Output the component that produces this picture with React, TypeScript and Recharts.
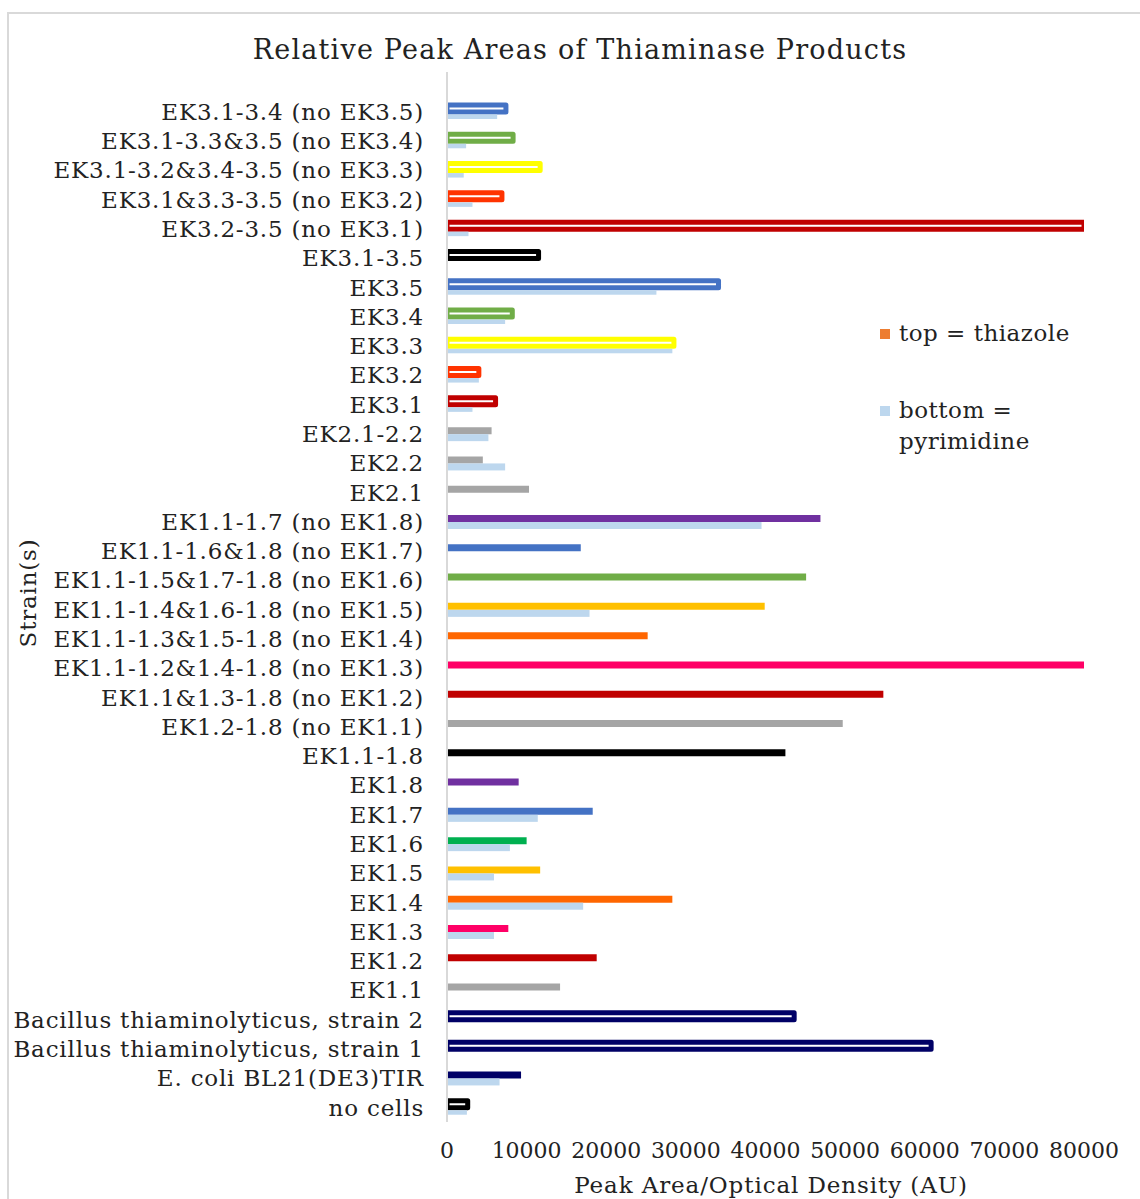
import React from 'react';
import { BarChart, Bar, XAxis, YAxis, Cell, Legend } from 'recharts';

// Strains, top to bottom
const strains: string[] = [
  'EK3.1-3.4 (no EK3.5)',
  'EK3.1-3.3&3.5 (no EK3.4)',
  'EK3.1-3.2&3.4-3.5 (no EK3.3)',
  'EK3.1&3.3-3.5 (no EK3.2)',
  'EK3.2-3.5 (no EK3.1)',
  'EK3.1-3.5',
  'EK3.5',
  'EK3.4',
  'EK3.3',
  'EK3.2',
  'EK3.1',
  'EK2.1-2.2',
  'EK2.2',
  'EK2.1',
  'EK1.1-1.7 (no EK1.8)',
  'EK1.1-1.6&1.8 (no EK1.7)',
  'EK1.1-1.5&1.7-1.8 (no EK1.6)',
  'EK1.1-1.4&1.6-1.8 (no EK1.5)',
  'EK1.1-1.3&1.5-1.8 (no EK1.4)',
  'EK1.1-1.2&1.4-1.8 (no EK1.3)',
  'EK1.1&1.3-1.8 (no EK1.2)',
  'EK1.2-1.8 (no EK1.1)',
  'EK1.1-1.8',
  'EK1.8',
  'EK1.7',
  'EK1.6',
  'EK1.5',
  'EK1.4',
  'EK1.3',
  'EK1.2',
  'EK1.1',
  'Bacillus thiaminolyticus, strain 2',
  'Bacillus thiaminolyticus, strain 1',
  'E. coli BL21(DE3)TIR',
  'no cells',
];

// Peak area / OD for the thiazole product (upper bar of each pair)
const thiazole: number[] = [
  7400, 8300, 11700, 6900, 80000, 11500, 34100, 8200, 28500, 4000, 6100,
  5600, 4500, 10300,
  46900, 16800, 45100, 39900, 25200, 80000, 54800, 49700, 42500,
  9000, 18300, 10000, 11700, 28300, 7700, 18800, 14200,
  43600, 60800, 9300, 2600,
];

// Peak area / OD for the pyrimidine product (lower bar of each pair)
const pyrimidine: number[] = [
  6300, 2400, 2100, 3200, 2700, 0, 26300, 7300, 28300, 4000, 3200,
  5200, 7300, 0,
  39500, 0, 0, 17900, 0, 0, 0, 0, 0,
  0, 11400, 7900, 5900, 17100, 5900, 0, 0,
  0, 0, 6600, 2500,
];

const xTicks: number[] = [0, 10000, 20000, 30000, 40000, 50000, 60000, 70000, 80000];

// Per-strain colour of the thiazole bar
const thiazoleColors: string[] = [
  '#4472C4', '#70AD47', '#FFFF00', '#FF3300', '#C00000', '#000000',
  '#4472C4', '#70AD47', '#FFFF00', '#FF3300', '#C00000',
  '#A5A5A5', '#A5A5A5', '#A5A5A5',
  '#7030A0', '#4472C4', '#70AD47', '#FFC000', '#FF6600', '#FF0066', '#C00000', '#A5A5A5', '#000000',
  '#7030A0', '#4472C4', '#00B050', '#FFC000', '#FF6600', '#FF0066', '#C00000', '#A5A5A5',
  '#000066', '#000066', '#000066', '#000000',
];

// Thiazole bars drawn as hollow outlines rather than solid fills
const hollow: boolean[] = [
  true, true, true, true, true, true, true, true, true, true, true,
  false, false, false,
  false, false, false, false, false, false, false, false, false,
  false, false, false, false, false, false, false, false,
  true, true, false, true,
];

const PYRIMIDINE_COLOR = '#BDD7EE';
const LEGEND_THIAZOLE = '#ED7D31';
const FONT = "'DejaVu Serif', serif";
const TEXT = '#222222';
const OUTLINE = 5;

const rows = strains.map((name, i) => ({
  name,
  thiazole: thiazole[i],
  pyrimidine: pyrimidine[i],
}));

// Pyrimidine bar; where the thiazole bar above is an outline, the bar starts
// below that outline's stroke so the stroke is not covered.
const PyrimidineBar = (props: any) => {
  const { x, y, width, height, index } = props;
  if (!width || width <= 0) return <g />;
  const i = typeof index === 'number' ? index : strains.indexOf(props?.payload?.name);
  const inset = hollow[i] ? OUTLINE / 2 : 0;
  return (
    <rect
      x={x}
      y={y + inset}
      width={width}
      height={Math.max(0, height - inset)}
      fill={PYRIMIDINE_COLOR}
    />
  );
};

const renderLegend = () => (
  <div style={{ fontFamily: FONT, fontSize: 23, letterSpacing: 0.5, color: TEXT, lineHeight: '31px' }}>
    <div style={{ display: 'flex', alignItems: 'center' }}>
      <span style={{ display: 'inline-block', width: 10, height: 10, background: LEGEND_THIAZOLE, marginRight: 9 }} />
      top = thiazole
    </div>
    <div style={{ display: 'flex', alignItems: 'flex-start', marginTop: 46 }}>
      <span style={{ display: 'inline-block', width: 10, height: 10, background: PYRIMIDINE_COLOR, marginRight: 9, marginTop: 11 }} />
      <span>
        bottom =<br />pyrimidine
      </span>
    </div>
  </div>
);

export default function App() {
  return (
    <div style={{ position: 'absolute', left: 0, top: 0, width: 1140, height: 1199, overflow: 'hidden', background: '#fff' }}>
      <div
        style={{
          position: 'absolute',
          left: 7,
          top: 12,
          width: 1133,
          height: 1187,
          borderTop: '2px solid #d9d9d9',
          borderLeft: '2px solid #d9d9d9',
          boxSizing: 'border-box',
        }}
      />
      <div
        style={{
          position: 'absolute',
          left: 0,
          top: 33,
          width: 1160,
          textAlign: 'center',
          fontFamily: FONT,
          fontSize: 27,
          letterSpacing: 1.2,
          lineHeight: '34px',
          color: TEXT,
        }}
      >
        Relative Peak Areas of Thiaminase Products
      </div>
      <div style={{ position: 'absolute', left: 0, top: 0 }}>
        <BarChart
          width={1140}
          height={1199}
          layout="vertical"
          data={rows}
          margin={{ top: 72, right: 56, bottom: 37, left: 0 }}
          barGap={0}
          barSize={7}
        >
          <XAxis
            type="number"
            domain={[0, 80000]}
            ticks={xTicks}
            allowDataOverflow
            axisLine={false}
            tickLine={false}
            height={40}
            tickMargin={14}
            tick={{ fontFamily: FONT, fontSize: 22, fill: TEXT }}
          />
          <YAxis
            type="category"
            dataKey="name"
            width={447}
            interval={0}
            padding={{ top: 25, bottom: 0 }}
            axisLine={{ stroke: '#d9d9d9', strokeWidth: 2 }}
            tickLine={false}
            tickSize={0}
            tickMargin={23}
            tick={{ fontFamily: FONT, fontSize: 23, letterSpacing: 0.8, fill: TEXT }}
          />
          <Legend
            layout="horizontal"
            verticalAlign="middle"
            align="center"
            content={renderLegend}
            wrapperStyle={{ left: 880, top: 318, width: 240 }}
          />
          <Bar dataKey="thiazole" name="top = thiazole" isAnimationActive={false}>
            {rows.map((r, i) => (
              <Cell
                key={r.name}
                fill={hollow[i] ? '#FFFFFF' : thiazoleColors[i]}
                stroke={thiazoleColors[i]}
                strokeWidth={hollow[i] ? OUTLINE : 0}
                strokeLinejoin="round"
              />
            ))}
          </Bar>
          <Bar dataKey="pyrimidine" name="bottom = pyrimidine" fill={PYRIMIDINE_COLOR} shape={PyrimidineBar} isAnimationActive={false} />
        </BarChart>
      </div>
      <div
        style={{
          position: 'absolute',
          left: 521,
          top: 1170,
          width: 500,
          textAlign: 'center',
          fontFamily: FONT,
          fontSize: 23,
          letterSpacing: 0.9,
          lineHeight: '30px',
          color: TEXT,
        }}
      >
        Peak Area/Optical Density (AU)
      </div>
      <div
        style={{
          position: 'absolute',
          left: 28 - 100,
          top: 593 - 15,
          width: 200,
          textAlign: 'center',
          transform: 'rotate(-90deg)',
          fontFamily: FONT,
          fontSize: 23,
          letterSpacing: 0.8,
          lineHeight: '30px',
          color: TEXT,
        }}
      >
        Strain(s)
      </div>
    </div>
  );
}
